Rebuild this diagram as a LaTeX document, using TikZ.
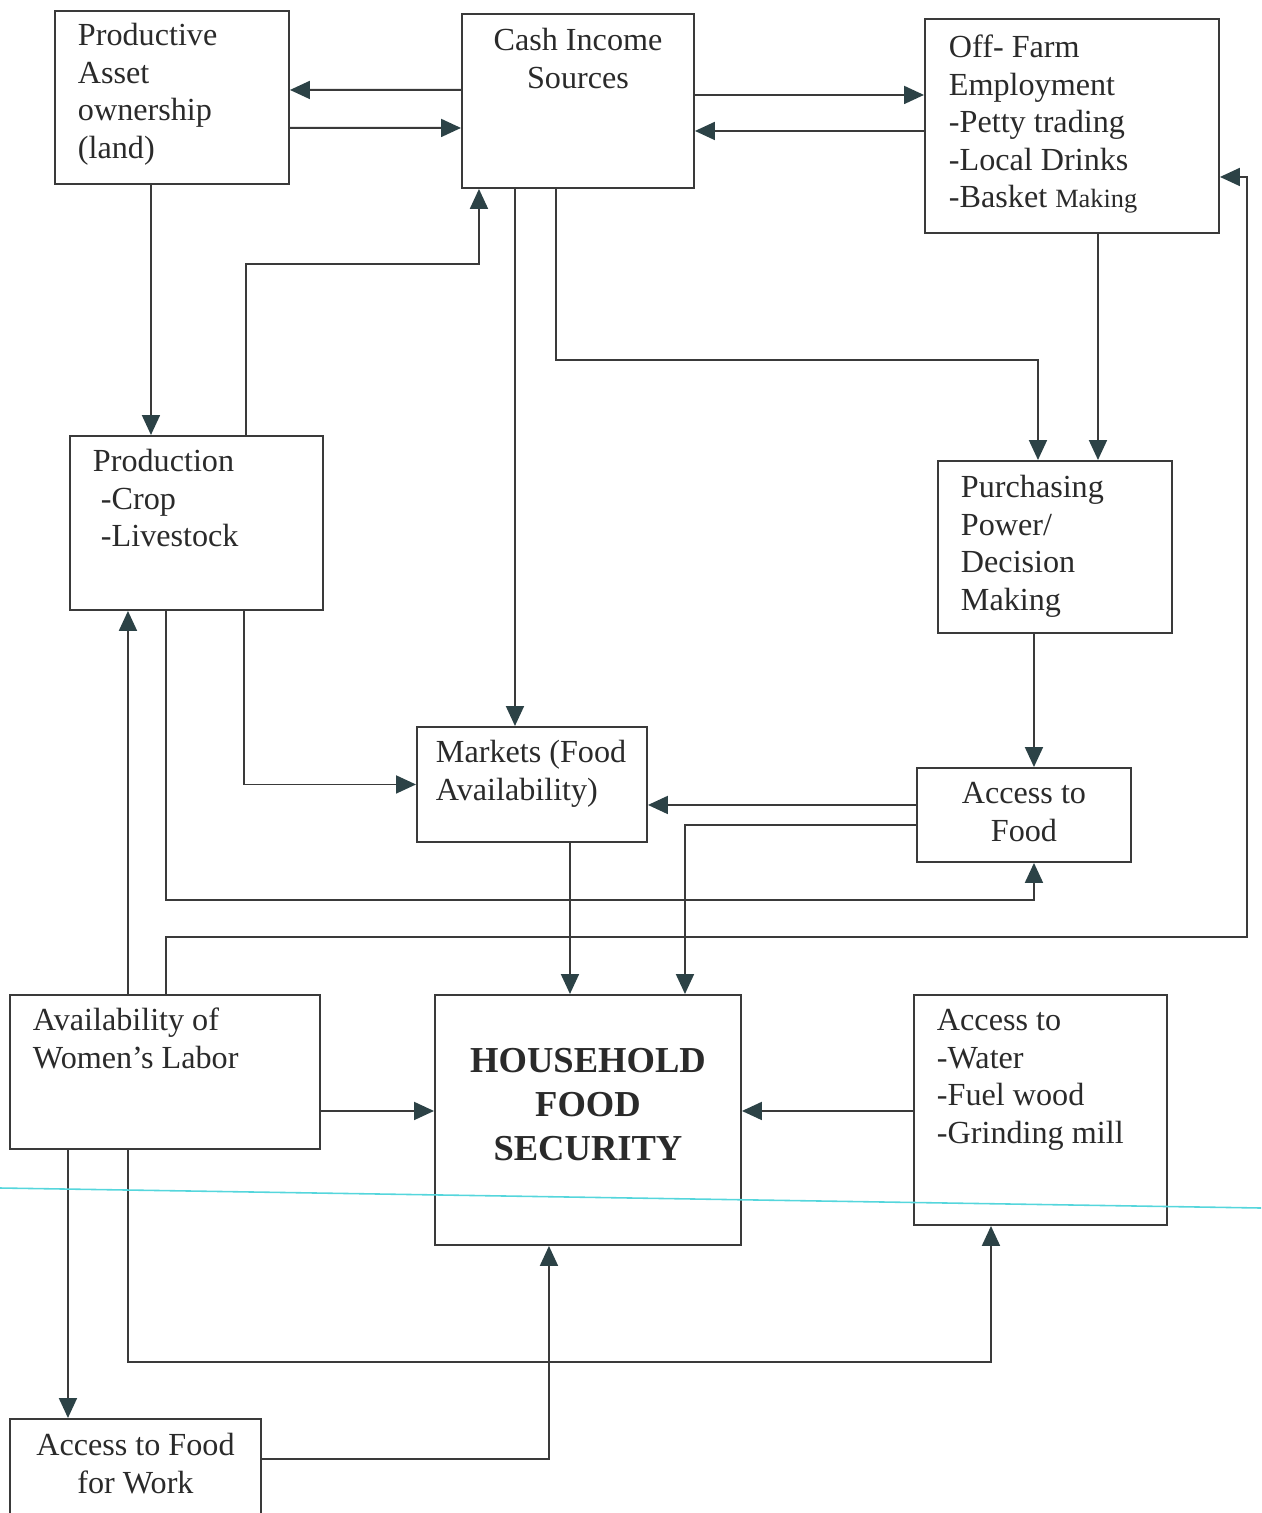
\documentclass[tikz,border=0pt]{standalone}
\usepackage{fontspec}
\setmainfont{Liberation Serif}
\usepackage{tikz}
\usetikzlibrary{arrows.meta}
\usetikzlibrary{positioning}
\definecolor{linegray}{HTML}{3A3A3A}
\definecolor{tipgray}{HTML}{2C4246}
\definecolor{textgray}{HTML}{2A2A2A}
\definecolor{scancyan}{HTML}{55D6DC}

\begin{document}
\begin{tikzpicture}[
box/.style={draw=linegray, line width=1.1pt, rectangle, anchor=north west, inner ysep=0pt, inner xsep=0.46cm, align=flush left, text=textgray, font=\fontsize{18.3}{21.3}\selectfont},
arr/.style={draw=linegray, line width=1.1pt, -{Triangle[length=0.4cm, width=0.36cm, color=tipgray]}}
]
\useasboundingbox (0,0) rectangle (25.22,-30.26);

\node[box, text width=3.76cm, text height=0.70cm, text depth=2.76cm] (asset) at (1.08,-0.20) {Productive\\Asset\\ownership\\(land)};
\node[box, inner xsep=0.1cm, align=flush center, text width=4.44cm, text height=0.74cm, text depth=2.74cm] (cash) at (9.22,-0.26) {Cash Income\\Sources};
\node[box, inner xsep=0.48cm, text width=4.92cm, text height=0.78cm, text depth=3.50cm] (off) at (18.48,-0.36) {Off- Farm\\Employment\\-Petty trading\\-Local Drinks\\-Basket {\fontsize{15}{18}\selectfont Making}};
\node[box, text width=4.14cm, text height=0.72cm, text depth=2.76cm] (prod) at (1.38,-8.70) {Production\\\hspace*{0.16cm}-Crop\\\hspace*{0.16cm}-Livestock};
\node[box, text width=3.76cm, text height=0.74cm, text depth=2.70cm] (purch) at (18.74,-9.20) {Purchasing\\Power/\\Decision\\Making};
\node[box, inner xsep=0.38cm, text width=3.84cm, text height=0.72cm, text depth=1.58cm] (mkt) at (8.32,-14.52) {Markets (Food\\Availability)};
\node[box, inner xsep=0.1cm, align=flush center, text width=4.08cm, text height=0.72cm, text depth=1.16cm] (acc) at (18.32,-15.34) {Access to\\Food};
\node[box, text width=5.28cm, text height=0.72cm, text depth=2.36cm] (women) at (0.18,-19.88) {Availability of\\Women’s Labor};
\node[box, inner xsep=0.1cm, align=flush center, text width=5.92cm, text height=1.56cm, text depth=3.44cm, font=\fontsize{20.8}{25}\selectfont\bfseries] (hfs) at (8.68,-19.88) {HOUSEHOLD\\FOOD\\SECURITY};
\node[box, text width=4.14cm, text height=0.72cm, text depth=3.88cm] (water) at (18.26,-19.88) {Access to\\-Water\\-Fuel wood\\-Grinding mill};
\node[box, inner xsep=0.1cm, align=flush center, text width=4.82cm, text height=0.74cm, text depth=1.30cm] (ffw) at (0.18,-28.36) {Access to Food\\for Work};

\draw[arr] ([yshift=0.22cm]cash.west) -- ([yshift=0.15cm]asset.east);
\draw[arr] ([yshift=-0.61cm]asset.east) -- ([yshift=-0.54cm]cash.west);
\draw[arr] ([yshift=0.12cm]cash.east) -- ([yshift=0.62cm]off.west);
\draw[arr] ([yshift=-0.10cm]off.west) -- ([yshift=-0.60cm]cash.east);
\draw[arr] ([xshift=-0.42cm]asset.south) -- ([xshift=-0.91cm]prod.north);
\draw[arr] ([xshift=0.99cm]prod.north) |- ([xshift=-1.98cm,yshift=-1.5cm]cash.south) -- ([xshift=-1.98cm]cash.south);
\draw[arr] ([xshift=-1.26cm]cash.south) -- ([xshift=-0.34cm]mkt.north);
\draw[arr] ([xshift=-0.44cm]cash.south) |- ([xshift=-0.34cm,yshift=2cm]purch.north) -- ([xshift=-0.34cm]purch.north);
\draw[arr] ([xshift=0.52cm]off.south) -- ([xshift=0.86cm]purch.north);
\draw[arr] ([xshift=-0.42cm]purch.south) -- ([xshift=0.20cm]acc.north);
\draw[arr] ([yshift=0.20cm]acc.west) -- ([yshift=-0.41cm]mkt.east);
\draw[arr] ([yshift=-0.20cm]acc.west) -| ([xshift=1.94cm]hfs.north);
\draw[arr] ([xshift=0.76cm]mkt.south) -- ([xshift=-0.36cm]hfs.north);
\draw[arr] ([xshift=0.95cm]prod.south) |- (mkt.west);
\draw[arr] ([xshift=-0.61cm]prod.south) |- ([xshift=0.2cm,yshift=-0.74cm]acc.south) -- ([xshift=0.2cm]acc.south);
\draw[arr] ([xshift=-0.74cm]women.north) -- ([xshift=-1.37cm]prod.south);
\draw[arr] ([xshift=0.02cm]women.north) -- ++(0,1.14) -| ([xshift=0.54cm,yshift=-1.02cm]off.east) -- ([yshift=-1.02cm]off.east);
\draw[arr] ([yshift=-0.78cm]women.east) -- ([yshift=0.18cm]hfs.west);
\draw[arr] ([yshift=-0.02cm]water.west) -- ([yshift=0.18cm]hfs.east);
\draw[arr] ([xshift=-0.74cm]women.south) |- ([xshift=-0.99cm,yshift=-2.72cm]water.south) -- ([xshift=-0.99cm]water.south);
\draw[arr] ([xshift=-1.94cm]women.south) -- ([xshift=-1.35cm]ffw.north);
\draw[arr] ([yshift=0.22cm]ffw.east) -| ([xshift=-0.78cm]hfs.south);

\draw[scancyan, line width=0.9pt] (0,-23.76) -- (25.22,-24.16);
\end{tikzpicture}
\end{document}
